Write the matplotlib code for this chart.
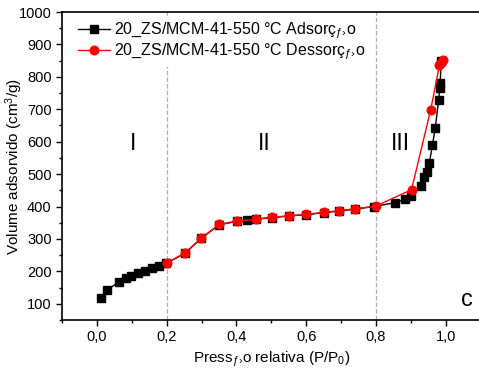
import matplotlib
matplotlib.use("Agg")
import matplotlib.pyplot as plt
from matplotlib.ticker import MultipleLocator

plt.rcParams['font.family'] = ['Liberation Sans', 'DejaVu Sans']
plt.rcParams['mathtext.fontset'] = 'custom'
plt.rcParams['mathtext.rm'] = 'Liberation Sans'
plt.rcParams['mathtext.it'] = 'Liberation Sans'

# Adsorption branch (relative pressure, volume adsorbed)
ads_p = [0.011, 0.030, 0.062, 0.083, 0.098, 0.118, 0.138, 0.158, 0.177, 0.199,
         0.253, 0.299, 0.351, 0.401, 0.431, 0.456, 0.501, 0.551, 0.600, 0.651,
         0.693, 0.740, 0.794, 0.855, 0.882, 0.899, 0.928, 0.939, 0.945, 0.953,
         0.962, 0.970, 0.980, 0.983, 0.984, 0.987]
ads_v = [118, 143, 167, 179, 186, 195, 201, 210, 217, 225,
         256, 302, 344, 354, 359, 361, 366, 371, 375, 381,
         386, 392, 400, 412, 422, 432, 463, 490, 505, 534,
         591, 642, 730, 767, 780, 849]

# Desorption branch
des_p = [0.991, 0.986, 0.982, 0.957, 0.902, 0.799, 0.740, 0.693, 0.651, 0.600,
         0.551, 0.501, 0.456, 0.401, 0.351, 0.299, 0.253, 0.200]
des_v = [851, 844, 836, 699, 452, 401, 393, 387, 382, 376,
         371, 367, 361, 355, 345, 303, 257, 226]

region_labels = ['I', 'II', 'III']
region_x = [0.103, 0.479, 0.869]
region_bounds = [0.2, 0.8]

W, H = 479, 376
fig = plt.figure(figsize=(W / 100, H / 100), dpi=100)
ax = fig.add_axes([62.1 / W, 56 / H, 418.5 / W, 308 / H])

for b in region_bounds:
    ax.axvline(b, color='#b0b0b0', lw=0.9, ls='--', zorder=1)

ax.plot(ads_p, ads_v, color='black', lw=1.0, marker='s', ms=5.2,
        mfc='black', mec='black', zorder=3,
        label='20_ZS/MCM-41-550 °C Adsor\u00e7$_{\u0192\u203a}$o')
ax.plot(des_p, des_v, color='red', lw=1.0, marker='o', ms=6.2,
        mfc='red', mec='red', zorder=4,
        label='20_ZS/MCM-41-550 °C Dessor\u00e7$_{\u0192\u203a}$o')

for lab, xp in zip(region_labels, region_x):
    ax.text(xp, 595, lab, ha='center', va='center', fontsize=16.5)
ax.text(1.06, 112, 'c', ha='center', va='center', fontsize=17)

ax.set_xlim(-0.1, 1.1)
ax.set_ylim(50, 1000)
ax.xaxis.set_minor_locator(MultipleLocator(0.1))
ax.yaxis.set_minor_locator(MultipleLocator(50))
ax.set_yticks(range(100, 1001, 100))
ax.set_xticks([0.0, 0.2, 0.4, 0.6, 0.8, 1.0])
ax.set_xticklabels(['0,0', '0,2', '0,4', '0,6', '0,8', '1,0'])
ax.tick_params(which='both', direction='out', top=False, right=False,
               labelsize=10.5, width=1.0)
ax.tick_params(which='major', length=4.5, pad=3)
ax.tick_params(which='minor', length=2.5)
for s in ax.spines.values():
    s.set_linewidth(1.2)

ax.set_xlabel('Press$_{\u0192\u203a}$o relativa (P/P$_0$)', fontsize=11)
ax.set_ylabel('Volume adsorvido (cm$^3$/g)', fontsize=11)
ax.xaxis.set_label_coords(0.5, -0.095)
ax.yaxis.set_label_coords(-0.089, 0.5)

leg = ax.legend(loc='upper left', bbox_to_anchor=(0.016, 1.0), fontsize=11.5,
                frameon=True, fancybox=False, edgecolor='none', framealpha=1,
                handlelength=2.0, handletextpad=0.3, borderaxespad=0.25,
                borderpad=0.3, labelspacing=0.0)

fig.savefig('out.png', dpi=100)
